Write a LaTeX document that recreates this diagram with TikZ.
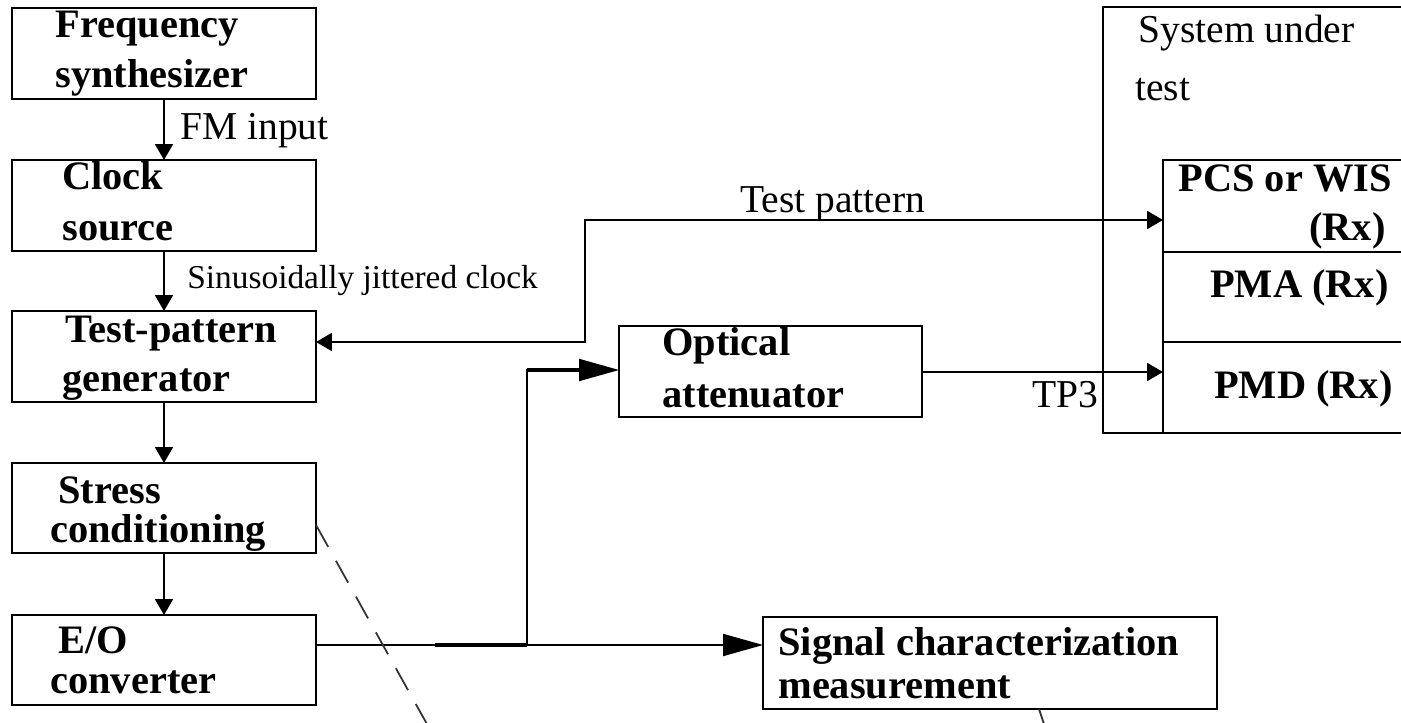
\documentclass[tikz,border=0pt]{standalone}
\usepackage{fontspec}
\setmainfont{Liberation Serif}
\usetikzlibrary{arrows.meta}
\tikzset{
  box/.style={draw, line width=1.1pt, rectangle, inner sep=0pt, outer sep=0pt},
  bt/.style={font=\bfseries\fontsize{23}{27}\selectfont, anchor=base west, inner sep=0pt},
  rt/.style={font=\fontsize{22.5}{27}\selectfont, anchor=base west, inner sep=0pt},
  st/.style={font=\fontsize{19}{23}\selectfont, anchor=base west, inner sep=0pt},
  ln/.style={line width=1.1pt},
  thk/.style={line width=2.4pt},
  sa/.style={line width=1.1pt, -{Triangle[length=0.32cm,width=0.36cm]}},
  ba/.style={line width=1.1pt, -{Triangle[length=0.8cm,width=0.44cm]}},
  dsh/.style={line width=1pt, draw=black!80, dash pattern=on 0.5cm off 0.32cm},
}
\begin{document}
\begin{tikzpicture}[x=0.02cm,y=-0.02cm]
\useasboundingbox (0,0) rectangle (1401,723);
\clip (0,0) rectangle (1401,723);

% left column boxes
\node[box, minimum width=6.08cm, minimum height=1.82cm] (fs) at (164,53.5) {};
\node[box, minimum width=6.08cm, minimum height=1.82cm] (cs) at (164,205.5) {};
\node[box, minimum width=6.08cm, minimum height=1.82cm] (tpg) at (164,356.5) {};
\node[box, minimum width=6.08cm, minimum height=1.80cm] (sc) at (164,508) {};
\node[box, minimum width=6.08cm, minimum height=1.80cm] (eo) at (164,660) {};

\node[bt] (fs1) at (55,38) {Frequency};
\node[bt] (fs2) at (55,88) {synthesizer};
\node[bt] (cs1) at (62,190) {Clock};
\node[bt] (cs2) at (62,240) {source};
\node[bt] (tp1) at (65,342) {Test-pattern};
\node[bt] (tp2) at (62,391) {generator};
\node[bt] (sc1) at (58,503) {Stress};
\node[bt] (sc2) at (50,542) {conditioning};
\node[bt] (eo1) at (58,653) {E/O};
\node[bt] (eo2) at (50,693) {converter};

% middle boxes
\node[box, minimum width=6.06cm, minimum height=1.82cm] (oa) at (770.5,371.5) {};
\node[bt] (oa1) at (662,355) {Optical};
\node[bt] (oa2) at (662,407) {attenuator};

\node[box, minimum width=9.08cm, minimum height=1.84cm] (scm) at (990,663) {};
\node[bt] (scm1) at (778,655) {Signal characterization};
\node[bt] (scm2) at (778,698) {measurement};

% system under test
\node[box, minimum width=6.74cm, minimum height=8.52cm] (sut) at (1271.5,220) {};
\node[rt] (sut1) at (1138,43) {System under};
\node[rt] (sut2) at (1135,101) {test};

\node[box, minimum width=5.54cm, minimum height=1.84cm] (pcs) at (1301.5,206) {};
\node[box, minimum width=5.54cm, minimum height=1.80cm] (pma) at (1301.5,297) {};
\node[box, minimum width=5.54cm, minimum height=1.82cm] (pmd) at (1301.5,387.5) {};
\node[bt] (pcs1) at (1178,192) {PCS or WIS};
\node[bt, anchor=base east] (pcs2) at (1386,240) {(Rx)};
\node[bt, anchor=base east] (pma1) at (1389,297) {PMA (Rx)};
\node[bt, anchor=base east] (pmd1) at (1393,398) {PMD (Rx)};

% labels
\node[rt] (fm) at (180,140) {FM input};
\node[st] (sj) at (187,288) {Sinusoidally jittered clock};
\node[rt] (tpl) at (740,213) {Test pattern};
\node[rt] (tp3) at (1032,407) {TP3};

% vertical chain
\draw[sa] (fs) -- (cs);
\draw[sa] (cs) -- (tpg);
\draw[sa] (tpg) -- (sc);
\draw[sa] (sc) -- (eo);

% test pattern loop
\coordinate (ta) at (585,342);
\coordinate (tb) at (585,220);
\draw[ln, {Triangle[length=0.32cm,width=0.36cm]}-{Triangle[length=0.32cm,width=0.36cm]}]
  (tpg.east |- ta) -- (ta) -- (tb) -- (pcs.west |- tb);

% E/O output
\coordinate (ea) at (527,645);
\coordinate (eb) at (527,370);
\coordinate (ec) at (435,645);
\coordinate (ed) at (600,370);
\draw[ba] (eo.east |- ea) -- (scm.west |- ea);
\draw[ba] (ea) -- (eb) -- (oa.west |- eb);
\draw[thk] (ec) -- (ea);
\draw[thk] (eb) -- (ed);

% TP3 line
\coordinate (tc) at (1000,372);
\draw[sa] (oa.east |- tc) -- (pmd.west |- tc);

% dashed lines
\coordinate (d1) at (316,525);
\coordinate (d2) at (447,760);
\draw[dsh] (d1) -- (d2);
\coordinate (d3) at (1039,709);
\coordinate (d4) at (1051,745);
\draw[dsh] (d3) -- (d4);
\end{tikzpicture}
\end{document}
